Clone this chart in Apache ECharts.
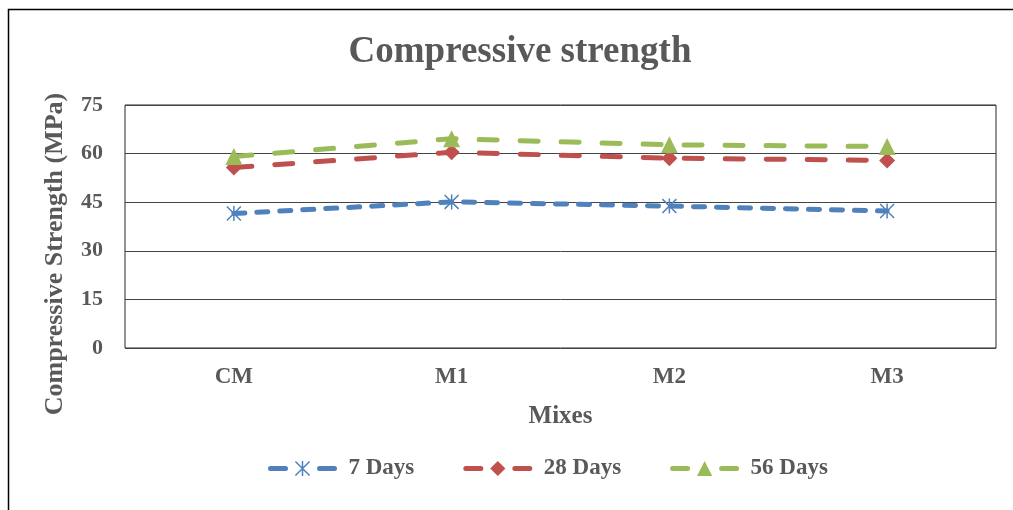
<!DOCTYPE html>
<html>
<head>
<meta charset="utf-8">
<script src="https://cdn.jsdelivr.net/npm/echarts@6/dist/echarts.min.js"></script>
<style>html,body{margin:0;padding:0;background:#fff}#c{width:1013px;height:510px}</style>
</head>
<body>
<div id="c"></div>
<script>
const categories = ['CM', 'M1', 'M2', 'M3'];
const days7 = [41.5, 45.1, 43.8, 42.3];
const days28 = [55.7, 60.4, 58.6, 57.9];
const days56 = [59.1, 64.6, 62.7, 62.2];
const seriesNames = ['7 Days', '28 Days', '56 Days'];
const yTicks = { min: 0, max: 75, interval: 15 };

const FONT = '"Liberation Serif", "Times New Roman", serif';
const TXT = '#595959';
const asterisk = 'path://M9 0 L11 0 L11 20 L9 20 Z M0 1.4 L1.4 0 L20 18.6 L18.6 20 Z M18.6 0 L20 1.4 L1.4 20 L0 18.6 Z';

const chart = echarts.init(document.getElementById('c'), null, { renderer: 'canvas' });
chart.setOption({
  backgroundColor: '#fff',
  animation: false,
  title: {
    text: 'Compressive strength',
    left: 515, top: 29, textAlign: 'center',
    textStyle: { fontFamily: FONT, fontSize: 37, fontWeight: 'bold', color: TXT }
  },
  graphic: [
    { type: 'rect', shape: { x: 8.5, y: 9.5, width: 1020, height: 520 }, style: { fill: 'none', stroke: '#000', lineWidth: 1.5 }, silent: true },
    { type: 'text', x: 55, y: 254, rotation: Math.PI / 2,
      style: { text: 'Compressive Strength (MPa)', fontFamily: FONT, fontSize: 26, fontWeight: 'bold', fill: TXT, align: 'center', verticalAlign: 'middle' } }
  ],
  legend: {
    left: 263, top: 452,
    itemWidth: 64, itemHeight: 19, itemGap: 49,
    lineStyle: { width: 5, type: [15, 34], cap: 'round' },
    textStyle: { fontFamily: FONT, fontSize: 23, fontWeight: 'bold', color: TXT, padding: [0, 0, 0, 9] },
    data: seriesNames
  },
  grid: { left: 125, right: 17, top: 105, bottom: 162, show: true, borderColor: '#262626', borderWidth: 1, containLabel: false },
  xAxis: {
    type: 'category', data: categories, boundaryGap: true,
    name: 'Mixes', nameLocation: 'middle', nameGap: 56,
    nameTextStyle: { fontFamily: FONT, fontSize: 25, fontWeight: 'bold', color: TXT },
    axisLine: { show: false }, axisTick: { show: false },
    axisLabel: { fontFamily: FONT, fontSize: 23, fontWeight: 'bold', color: TXT, margin: 18 }
  },
  yAxis: {
    type: 'value', min: yTicks.min, max: yTicks.max, interval: yTicks.interval,
    axisLine: { show: false }, axisTick: { show: false },
    axisLabel: { fontFamily: FONT, fontSize: 22, fontWeight: 'bold', color: TXT, margin: 22 },
    splitLine: { lineStyle: { color: '#444', width: 1 } }
  },
  series: [
    { name: seriesNames[0], type: 'line', data: days7, color: '#4f81bd',
      symbol: asterisk, symbolSize: 15,
      itemStyle: { color: '#4f81bd' },
      lineStyle: { width: 5, type: [11, 12], cap: 'round', color: '#4f81bd' } },
    { name: seriesNames[1], type: 'line', data: days28, color: '#c0504d',
      symbol: 'diamond', symbolSize: 16,
      itemStyle: { color: '#c0504d' },
      lineStyle: { width: 5, type: [18, 23], cap: 'round', color: '#c0504d' } },
    { name: seriesNames[2], type: 'line', data: days56, color: '#9bbb59',
      symbol: 'triangle', symbolSize: 17,
      itemStyle: { color: '#9bbb59' },
      lineStyle: { width: 5, type: [18, 23], cap: 'round', color: '#9bbb59' } }
  ]
});
</script>
</body>
</html>
